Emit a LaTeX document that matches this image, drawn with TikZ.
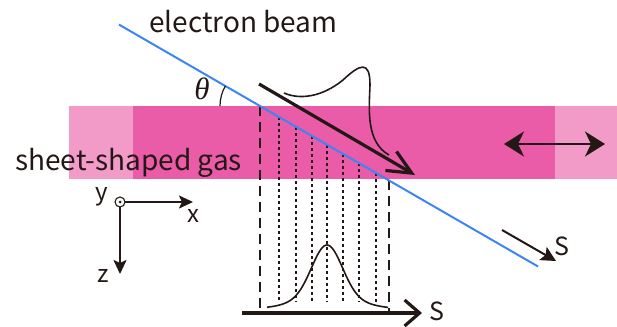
\documentclass[tikz,border=0pt]{standalone}
\usepackage{fontspec}
\setmainfont{Noto Sans CJK JP}
\newfontfamily\thetafont{Liberation Serif}
\usetikzlibrary{arrows.meta}
\definecolor{gaslight}{HTML}{F29BC9}
\definecolor{gasdark}{HTML}{EA5BA8}
\definecolor{beamblue}{HTML}{3D85F2}
\definecolor{inkblack}{HTML}{231815}
\tikzset{
  lbl/.style={inner sep=0pt,text=inkblack,font=\fontsize{28}{32}\selectfont},
  axlbl/.style={inner sep=0pt,text=inkblack,font=\fontsize{24}{28}\selectfont},
  longdash/.style={draw=inkblack,line width=1.8pt,dash pattern=on 10pt off 6pt},
  dotline/.style={draw=inkblack,line width=1.6pt,dash pattern=on 3pt off 3pt},
  axarrow/.style={draw=inkblack,line width=2pt,shorten <=5pt,-{Stealth[length=14pt,width=13pt,inset=3pt]}}
}
\begin{document}
\begin{tikzpicture}[x=1pt,y=-1pt,line join=miter]
  \useasboundingbox (0,0) rectangle (617,326);
  % gas sheet
  \fill[gaslight] (69,106) rectangle (617,179);
  \fill[gasdark] (133,106) rectangle (555,179);
  % projection lines
  \draw[longdash] (260,106) -- (260,313);
  \draw[longdash] (389,{106+129*tan(30)}) -- (389,313);
  \foreach \x in {279,296,312,327,343,359,376}
    \draw[dotline] (\x,{106+(\x-260)*tan(30)}) -- (\x,302);
  % electron beam
  \coordinate (beamA) at (119,{106-141*tan(30)});
  \coordinate (beamB) at (538,{106+278*tan(30)});
  \draw[beamblue,line width=2pt] (beamA) -- (beamB);
  \node[lbl,anchor=base west] (beamtxt) at (149,33) {electron beam};
  \node[lbl,anchor=base west] (gastxt) at (15,170) {sheet-shaped gas};
  % angle
  \draw[inkblack,line width=1.2pt] (220,106) arc[start angle=180,end angle=150,radius=40pt];
  \node[inner sep=0pt,text=inkblack,font=\thetafont\itshape\fontsize{31}{34}\selectfont] (theta) at (202,89) {θ};
  % bunch
  \coordinate (bunchA) at (259,84);
  \coordinate (bunchB) at (415,175);
  \draw[inkblack,line width=3.2pt,-{Straight Barb[length=24pt,width=22pt]}] (bunchA) -- (bunchB);
  \draw[inkblack,line width=1.6pt] (284,93) .. controls (300,100) and (322,97) .. (343,80)
    .. controls (360,64) and (370,60) .. (370,85)
    .. controls (369,110) and (366,142) .. (389,155);
  % oscillation
  \coordinate (oscA) at (504,144);
  \coordinate (oscB) at (605,144);
  \draw[inkblack,line width=2.2pt,{Stealth[length=20pt,width=25pt,inset=6pt]}-{Stealth[length=20pt,width=25pt,inset=6pt]}] (oscA) -- (oscB);
  % s direction along beam
  \coordinate (sA) at (502,230);
  \coordinate (sB) at (556,261);
  \draw[inkblack,line width=2pt,-{Stealth[length=15pt,width=15pt,inset=3pt]}] (sA) -- (sB);
  \node[axlbl,font=\fontsize{25}{28}\selectfont] (stxtA) at (562,246) {S};
  % projected profile
  \coordinate (profA) at (242,313);
  \coordinate (profB) at (422,313);
  \draw[inkblack,line width=3.2pt,-{Straight Barb[length=15pt,width=26pt]}] (profA) -- (profB);
  \node[axlbl,font=\fontsize{25}{28}\selectfont] (stxtB) at (437,311) {S};
  \draw[inkblack,line width=1.6pt] plot[domain=267:388,samples=90]
    (\x,{309-64*(0.8*exp(-((\x-327)^2)/450)+0.2*exp(-((\x-327)^2)/1800))});
  % axes
  \coordinate (orig) at (120,202);
  \coordinate (xend) at (193,202);
  \coordinate (zend) at (120,274);
  \draw[axarrow] (orig) -- (xend);
  \draw[axarrow] (orig) -- (zend);
  \draw[inkblack,line width=1.1pt] (orig) circle[radius=5pt];
  \fill[inkblack] (orig) circle[radius=1.5pt];
  \node[axlbl] (ytxt) at (102,197) {y};
  \node[axlbl] (xtxt) at (193,216) {x};
  \node[axlbl] (ztxt) at (103,276) {z};
\end{tikzpicture}
\end{document}
